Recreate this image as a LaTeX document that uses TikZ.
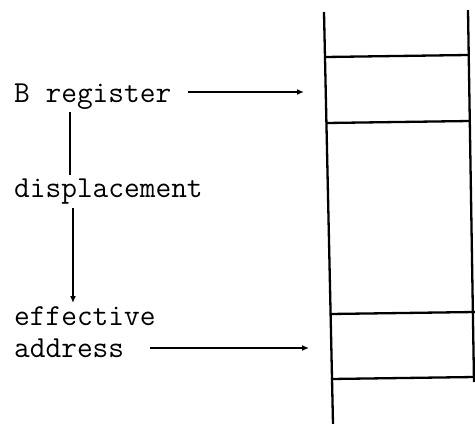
\documentclass[tikz,border=0pt]{standalone}
\usetikzlibrary{arrows.meta}
\begin{document}
\begin{tikzpicture}[x=1pt,y=-1pt,
  lbl/.style={anchor=base west,inner sep=0pt,font=\fontsize{30.5}{30}\selectfont\ttfamily},
  wire/.style={line width=2.3pt},
  ptr/.style={wire,-{Latex[length=7pt,width=6pt]}}]
\useasboundingbox (0,0) rectangle (475,424);
% memory column
\coordinate (lt) at (324,12);
\coordinate (lb) at (333,424);
\coordinate (rt) at (468,10);
\coordinate (rb) at (474,382);
\draw[wire] (lt) -- (lb);
\draw[wire] (rt) -- (rb);
\draw[wire] (325,57) -- (468,55);
\draw[wire] (326,123) -- (470,121);
\draw[wire] (330,314) -- (475,312);
\draw[wire] (331,379) -- (475,377);
% labels
\node[lbl] (breg) at (14,102) {B register};
\node[lbl] (disp) at (14,197) {displacement};
\node[lbl] (eff) at (14,325) {effective};
\node[lbl] (addr) at (14,357) {address};
% targets on the column
\coordinate (tb) at (304,92);
\coordinate (te) at (309,348);
% links
\draw[ptr] (breg.east|-tb) ++(17,0) coordinate (sb) -- (tb);
\draw[ptr] (addr.east|-te) ++(26,0) coordinate (se) -- (te);
\draw[wire] (70,112) coordinate (v1) -- (70,175) coordinate (v2);
\draw[ptr] (73,208) coordinate (v3) -- (73,303) coordinate (v4);
\end{tikzpicture}
\end{document}
